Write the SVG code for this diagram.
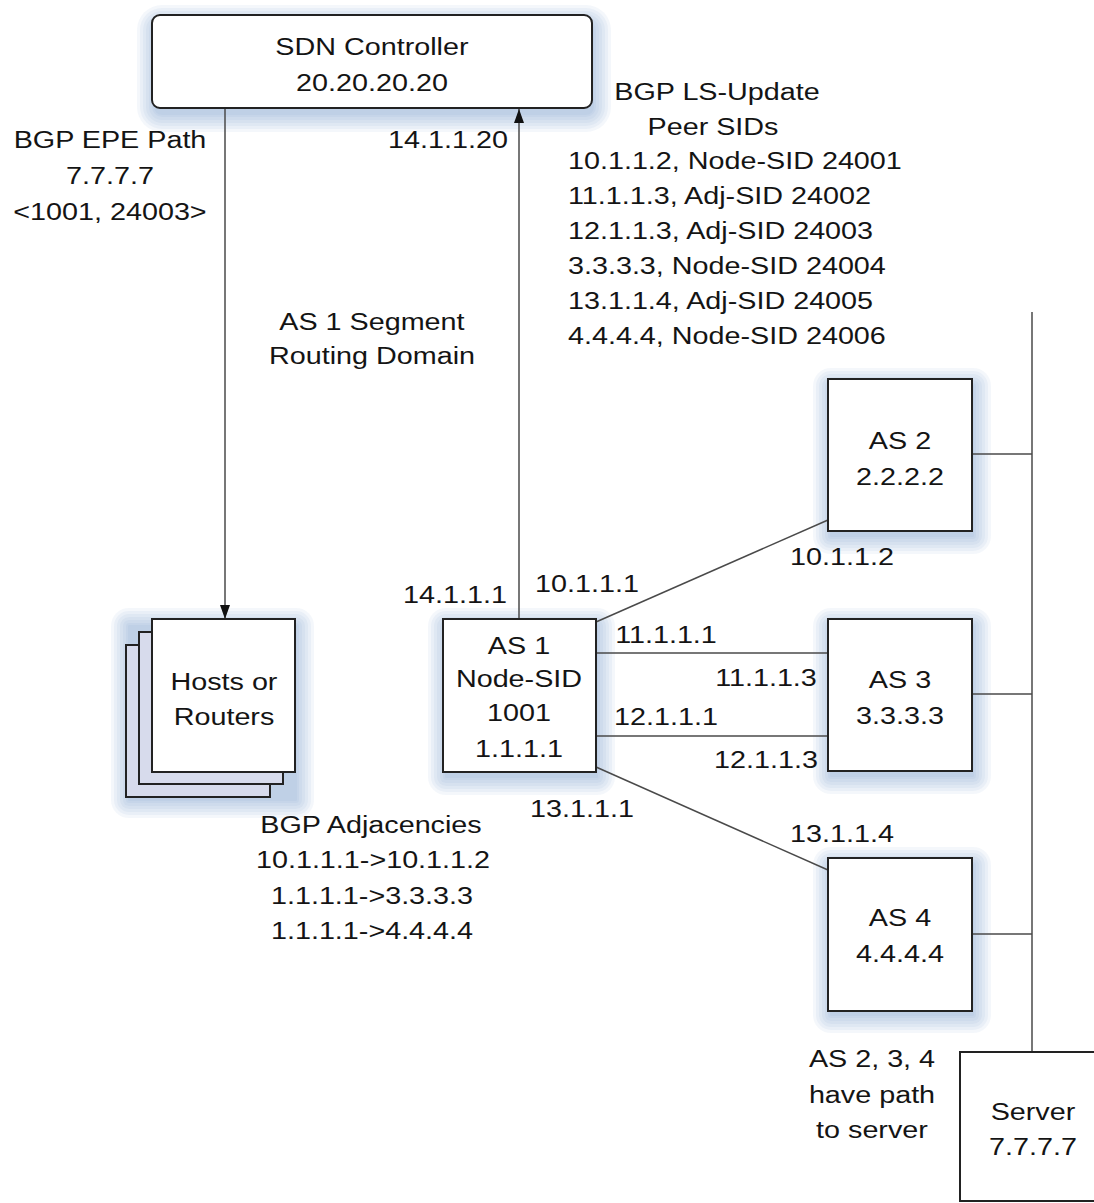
<svg xmlns="http://www.w3.org/2000/svg" width="1094" height="1203" viewBox="0 0 1094 1203">
<style>
text{font-family:"Liberation Sans",Arial,sans-serif;font-size:23px;fill:#141414;text-anchor:middle;transform-box:fill-box;transform-origin:center;transform:scaleX(1.25)}
text.l{text-anchor:start;transform-origin:left center}
.box{fill:#fff;stroke:#222;stroke-width:2}
.back{fill:#d7dbec;stroke:#222;stroke-width:2}
.ln{stroke:#4a4a4a;stroke-width:1.5;fill:none}
.h rect{fill:#7297c6;fill-opacity:0.075}
</style>
<defs>
<g id="halo" class="h">
<rect x="2" y="6" width="144" height="152" rx="1"/>
<rect x="0" y="4" width="148" height="156" rx="3"/>
<rect x="-3" y="1" width="154" height="162" rx="6"/>
<rect x="-6" y="-2" width="160" height="168" rx="9"/>
<rect x="-9" y="-5" width="166" height="174" rx="12"/>
<rect x="-12" y="-8" width="172" height="180" rx="15"/>
<rect x="-15" y="-11" width="178" height="186" rx="18"/>
</g>
<marker id="arr" markerUnits="userSpaceOnUse" markerWidth="14" markerHeight="12" refX="14" refY="5" orient="auto">
<path d="M0,0 L14,5 L0,10 z" fill="#111"/>
</marker>
</defs>
<rect width="1094" height="1203" fill="#fff"/>

<g id="halos">
<g class="h">
<rect x="154" y="22" width="440" height="93" rx="8"/>
<rect x="152" y="20" width="444" height="97" rx="10"/>
<rect x="149" y="17" width="450" height="103" rx="13"/>
<rect x="146" y="14" width="456" height="109" rx="16"/>
<rect x="143" y="11" width="462" height="115" rx="19"/>
<rect x="140" y="8" width="468" height="121" rx="22"/>
<rect x="137" y="5" width="474" height="127" rx="25"/>
</g>
<g class="h">
<rect x="128" y="625" width="169" height="176" rx="1"/>
<rect x="126" y="623" width="173" height="180" rx="3"/>
<rect x="123" y="620" width="179" height="186" rx="6"/>
<rect x="120" y="617" width="185" height="192" rx="9"/>
<rect x="117" y="614" width="191" height="198" rx="12"/>
<rect x="114" y="611" width="197" height="204" rx="15"/>
<rect x="111" y="608" width="203" height="210" rx="18"/>
</g>
<g class="h">
<rect x="445" y="625" width="153" height="153" rx="1"/>
<rect x="443" y="623" width="157" height="157" rx="3"/>
<rect x="440" y="620" width="163" height="163" rx="6"/>
<rect x="437" y="617" width="169" height="169" rx="9"/>
<rect x="434" y="614" width="175" height="175" rx="12"/>
<rect x="431" y="611" width="181" height="181" rx="15"/>
<rect x="428" y="608" width="187" height="187" rx="18"/>
</g>
<use href="#halo" x="828" y="379"/>
<use href="#halo" x="828" y="619"/>
<use href="#halo" x="828" y="858"/>
</g>

<g id="connectors">
<line class="ln" x1="225" y1="108" x2="225" y2="619" marker-end="url(#arr)"/>
<line class="ln" x1="519" y1="619" x2="519" y2="109" marker-end="url(#arr)"/>
<line class="ln" x1="596" y1="622" x2="828" y2="520"/>
<line class="ln" x1="596" y1="653" x2="828" y2="653"/>
<line class="ln" x1="596" y1="736" x2="828" y2="736"/>
<line class="ln" x1="596" y1="767" x2="828" y2="870"/>
<line class="ln" x1="972" y1="454" x2="1032" y2="454"/>
<line class="ln" x1="972" y1="694" x2="1032" y2="694"/>
<line class="ln" x1="972" y1="934" x2="1032" y2="934"/>
<line class="ln" x1="1032" y1="312" x2="1032" y2="1052"/>
</g>

<g id="sdn-controller">
<rect class="box" x="152" y="15" width="440" height="93" rx="8"/>
<text x="372" y="55">SDN Controller</text>
<text x="372" y="91">20.20.20.20</text>
</g>

<g id="hosts">
<rect class="back" x="126" y="645" width="144" height="152"/>
<rect class="back" x="139" y="632" width="144" height="152"/>
<rect class="box" x="152" y="619" width="143" height="153"/>
<text x="224" y="690">Hosts or</text>
<text x="224" y="725">Routers</text>
</g>

<g id="as1">
<rect class="box" x="443" y="619" width="153" height="153"/>
<text x="519" y="654">AS 1</text>
<text x="519" y="687">Node-SID</text>
<text x="519" y="721">1001</text>
<text x="519" y="757">1.1.1.1</text>
</g>

<g id="as2">
<rect class="box" x="828" y="379" width="144" height="152"/>
<text x="900" y="449">AS 2</text>
<text x="900" y="485">2.2.2.2</text>
</g>

<g id="as3">
<rect class="box" x="828" y="619" width="144" height="152"/>
<text x="900" y="688">AS 3</text>
<text x="900" y="724">3.3.3.3</text>
</g>

<g id="as4">
<rect class="box" x="828" y="858" width="144" height="153"/>
<text x="900" y="926">AS 4</text>
<text x="900" y="962">4.4.4.4</text>
</g>

<g id="server">
<rect class="box" x="960" y="1052" width="150" height="149"/>
<text x="1033" y="1120">Server</text>
<text x="1033" y="1155">7.7.7.7</text>
</g>

<g id="labels">
<text x="110" y="148">BGP EPE Path</text>
<text x="110" y="184">7.7.7.7</text>
<text x="110" y="220">&lt;1001, 24003&gt;</text>
<text x="448" y="148">14.1.1.20</text>
<text x="717" y="100">BGP LS-Update</text>
<text x="713" y="135">Peer SIDs</text>
<text class="l" x="568" y="169">10.1.1.2, Node-SID 24001</text>
<text class="l" x="568" y="204">11.1.1.3, Adj-SID 24002</text>
<text class="l" x="568" y="239">12.1.1.3, Adj-SID 24003</text>
<text class="l" x="568" y="274">3.3.3.3, Node-SID 24004</text>
<text class="l" x="568" y="309">13.1.1.4, Adj-SID 24005</text>
<text class="l" x="568" y="344">4.4.4.4, Node-SID 24006</text>
<text x="372" y="330">AS 1 Segment</text>
<text x="372" y="364">Routing Domain</text>
<text x="842" y="565">10.1.1.2</text>
<text x="455" y="603">14.1.1.1</text>
<text x="587" y="592">10.1.1.1</text>
<text x="666" y="643">11.1.1.1</text>
<text x="766" y="686">11.1.1.3</text>
<text x="666" y="725">12.1.1.1</text>
<text x="766" y="768">12.1.1.3</text>
<text x="582" y="817">13.1.1.1</text>
<text x="842" y="842">13.1.1.4</text>
<text x="371" y="833">BGP Adjacencies</text>
<text x="373" y="868">10.1.1.1-&gt;10.1.1.2</text>
<text x="372" y="904">1.1.1.1-&gt;3.3.3.3</text>
<text x="372" y="939">1.1.1.1-&gt;4.4.4.4</text>
<text x="872" y="1067">AS 2, 3, 4</text>
<text x="872" y="1103">have path</text>
<text x="872" y="1138">to server</text>
</g>
</svg>
